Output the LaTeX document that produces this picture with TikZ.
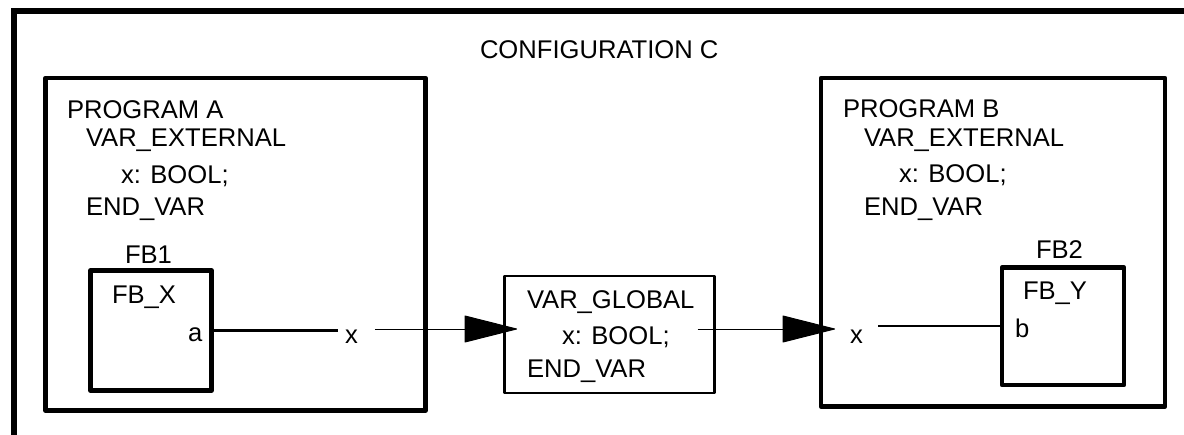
\documentclass[tikz,border=0pt]{standalone}
\usepackage{fontspec}
\setmainfont{Liberation Sans}
\usetikzlibrary{arrows.meta}

\begin{document}
\begin{tikzpicture}[x=0.5pt,y=-0.5pt,
        every node/.style={font=\fontsize{12.8}{15}\selectfont, inner sep=0pt, outer sep=0pt},
        txt/.style={anchor=base west},
        progbox/.style={draw, rectangle, line width=2.3pt, line join=round},
        fbbox/.style={draw, rectangle, line width=2.2pt, line join=round},
        wire/.style={line width=1.1pt},
        busarrow/.style={line width=0.5pt, -{Triangle[length=27pt,width=13.5pt,round]}}]
            \useasboundingbox (0,0) rectangle (1184,434);
            \draw[line width=2.6pt] (14,445) -- (14,11) -- (1195,11);
            \node[txt](config) at (480,58){CONFIGURATION C};

            \node[progbox, minimum width=190pt, minimum height=166.25pt](proga) at (235.5,244.25){};
            \node[txt](proga-name) at (67,118){PROGRAM A};
            \node[txt](proga-ext) at (86,146){VAR\_EXTERNAL};
            \node[txt](proga-x) at (121,183){x: BOOL;};
            \node[txt](proga-end) at (86,215){END\_VAR};
            \node[fbbox, minimum width=60.5pt, minimum height=60pt](fb1) at (151,330.5){};
            \node[txt](fb1-name) at (125,263){FB1};
            \node[txt](fb1-type) at (112,303){FB\_X};
            \node[txt](fb1-a) at (188,341){a};
            \node[txt](xa) at (345,343){x};

            \node[draw, rectangle, line width=1.3pt, line join=round, minimum width=105pt, minimum height=58.5pt](glob) at (609.5,334.5){};
            \node[txt](glob-var) at (527,308){VAR\_GLOBAL};
            \node[txt](glob-x) at (562,344){x: BOOL;};
            \node[txt](glob-end) at (527,377){END\_VAR};

            \node[progbox, minimum width=172pt, minimum height=164.25pt](progb) at (993,242.25){};
            \node[txt](progb-name) at (843,117){PROGRAM B};
            \node[txt](progb-ext) at (864,146){VAR\_EXTERNAL};
            \node[txt](progb-x) at (899,182){x: BOOL;};
            \node[txt](progb-end) at (864,215){END\_VAR};
            \node[fbbox, minimum width=61pt, minimum height=58.75pt](fb2) at (1063,326.25){};
            \node[txt](fb2-name) at (1036,258){FB2};
            \node[txt](fb2-type) at (1023,299){FB\_Y};
            \node[txt](fb2-b) at (1015,337){b};
            \node[txt](xb) at (850,343){x};

            \coordinate (bus) at (0,329);
            \draw[wire, shorten >=3.5pt](fb1.east)--(fb1.east -| xa.west);
            \draw[busarrow, shorten <=8.5pt, shorten >=-6.25pt](xa.east |- bus)--(glob.west |- bus);
            \draw[busarrow, shorten <=14pt, shorten >=7.5pt](glob-x.east |- bus)--(xb.west |- bus);
            \draw[wire, shorten >=7.5pt](fb2.west)--(fb2.west -| xb.east);
        \end{tikzpicture}
\end{document}
